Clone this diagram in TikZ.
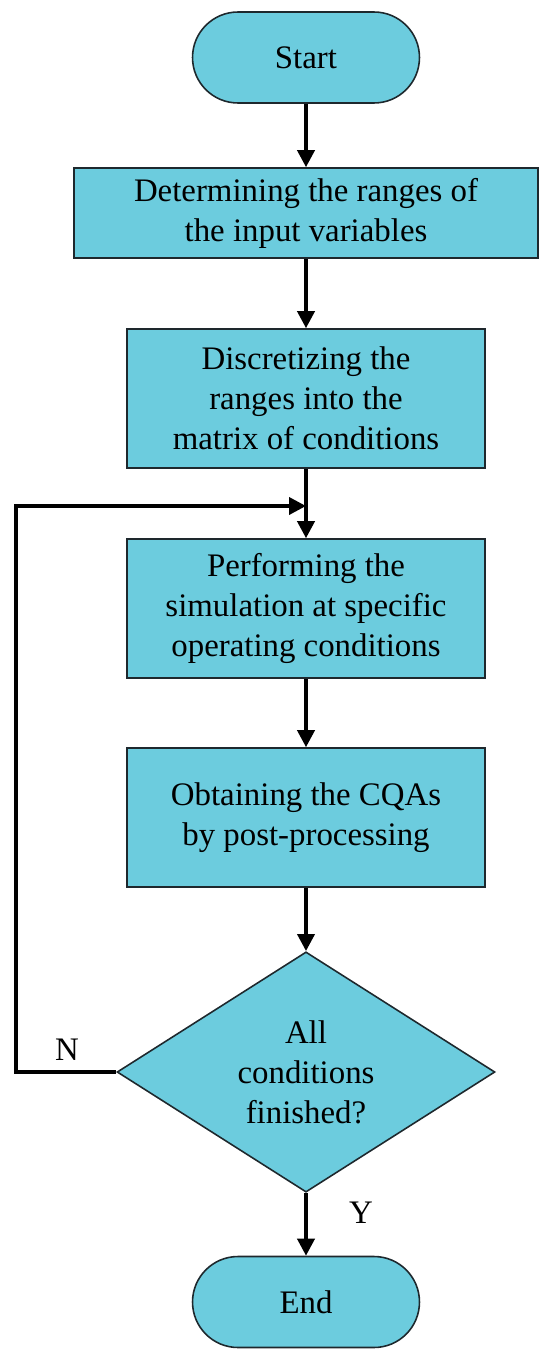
\documentclass[tikz,border=0pt]{standalone}
\usepackage{fontspec}
\setmainfont{Liberation Serif}
\usepackage{tikz}
\usetikzlibrary{arrows.meta, shapes.geometric}

\definecolor{boxfill}{RGB}{108,204,222}
\definecolor{boxline}{RGB}{30,40,45}

\begin{document}
\begin{tikzpicture}[x=0.02cm, y=-0.02cm,
    every node/.style={font=\fontsize{18.7}{22.8}\selectfont},
    terminal/.style={draw=boxline, fill=boxfill, line width=0.9pt, rounded corners=0.91cm,
      minimum width=4.54cm, minimum height=1.82cm, inner sep=0pt},
    process/.style={draw=boxline, fill=boxfill, line width=0.9pt, align=center,
      minimum width=7.16cm, minimum height=2.78cm, inner sep=0pt},
    decision/.style={diamond, draw=boxline, fill=boxfill, line width=0.9pt, align=center,
      minimum width=7.56cm, minimum height=4.52cm, inner sep=0pt},
    flow/.style={line width=2.1pt, -{Triangle[length=0.34cm, width=0.34cm]}}]
  \useasboundingbox (0,0) rectangle (550,1368);
  % nodes
  \node[terminal] (start) at (306,57.5) {Start};
  \node[process, minimum width=9.28cm, minimum height=1.8cm] (ranges) at (306,213)
    {Determining the ranges of\\the input variables};
  \node[process] (discrete) at (306,398.5) {Discretizing the\\ranges into the\\matrix of conditions};
  \node[process] (simulate) at (306,608.5) {Performing the\\simulation at specific\\operating conditions};
  \node[process] (post) at (306,817.5) {Obtaining the CQAs\\by post-processing};
  \node[decision] (check) at (306,1072) {All\\conditions\\finished?};
  \node[terminal] (end) at (306,1302) {End};
  \coordinate (merge) at (306,506);
  % connectors
  \draw[flow] (start) -- (ranges);
  \draw[flow] (ranges) -- (discrete);
  \draw[flow] (discrete) -- (simulate);
  \draw[flow] (simulate) -- (post);
  \draw[flow] (post) -- (check);
  \draw[flow] (check) -- (end);
  % loop back
  \draw[flow] (check.west) -- ++(-100,0) |- (merge);
  \node (no) at (67,1050) {N};
  \node (yes) at (361,1213) {Y};
\end{tikzpicture}
\end{document}
